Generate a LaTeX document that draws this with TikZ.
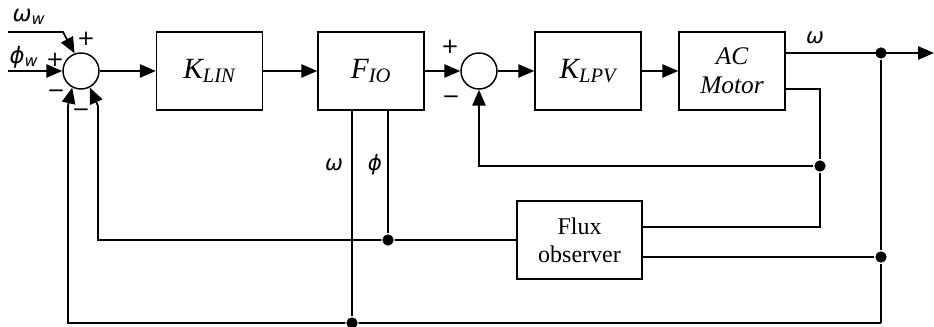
\documentclass[tikz,border=0pt]{standalone}
\usepackage{fontspec}
\setmainfont{Liberation Serif}
\newfontfamily\grk{DejaVu Sans}
\usetikzlibrary{arrows.meta, positioning, calc}

\begin{document}
\begin{tikzpicture}[x=0.75pt, y=-0.75pt, line width=1.3pt,
  every node/.style={font=\fontsize{16}{19}\selectfont\grk},
  block/.style={draw, line width=1.1pt, minimum width=79.5pt, minimum height=58.5pt, inner sep=0pt, font=\fontsize{22}{26}\selectfont\rmfamily\itshape},
  sumnode/.style={draw, line width=1.1pt, circle, minimum size=27pt, inner sep=0pt},
  dot/.style={circle, fill, inner sep=0pt, minimum size=8.5pt},
  sig/.style={-{Triangle[length=12pt,width=10pt]}}]
  \useasboundingbox (0,0) rectangle (934,327);

  \node[sumnode] (s1) at (81,71) {};
  \node[block] (klin) at (209.5,71) {K\textsubscript{LIN}};
  \node[block] (fio) at (371,71) {F\textsubscript{IO}};
  \node[sumnode] (s2) at (479,71) {};
  \node[block] (klpv) at (588,71) {K\textsubscript{LPV}};
  \node[block, align=center, font=\fontsize{19}{22}\selectfont\rmfamily\itshape] (motor) at (732,71) {AC\\Motor};
  \node[block, minimum width=93.75pt, align=center, font=\fontsize{18}{21}\selectfont\rmfamily] (flux) at (579.5,240) {Flux\\observer};

  \draw[sig] (s1) -- (klin);
  \draw[sig] (klin) -- (fio);
  \draw[sig] (fio) -- (s2);
  \draw[sig] (s2) -- (klpv);
  \draw[sig] (klpv) -- (motor);

  % references
  \coordinate (win) at (8,32);
  \coordinate (wbend) at (63,32);
  \coordinate (pin) at (8,71);
  \draw[sig] (win) -- (wbend) -- (s1.110);
  \draw[sig] (pin) -- (s1.west);
  \node[font=\fontsize{17}{20}\selectfont\grk] (wlab) at (29,17) {\itshape ω\textsubscript{w}};
  \node[font=\fontsize{17}{20}\selectfont\grk] (plab) at (24,57) {\itshape ϕ\textsubscript{w}};
  \node (p1) at (86,39) {+};
  \node (p2) at (55,60) {+};
  \node (m1) at (56,94) {−};
  \node (m2) at (81,113) {−};
  \node (p3) at (450,47) {+};
  \node (m3) at (451,100) {−};

  % motor outputs
  \coordinate (mout) at ($(motor.east)+(0,-18)$);
  \coordinate (mout2) at ($(motor.east)+(0,18)$);
  \coordinate (yend) at (934,53);
  \node[dot] (d1) at (881,53) {};
  \draw[sig] (mout) -- (yend);
  \node (wout) at (815,38) {\itshape ω};
  \node[dot] (d2) at (820,166) {};
  \draw (mout2) -| (d2) |- ($(flux.east)+(0,-13)$);
  \draw[sig] (d2) -| (s2.south);

  % outer loop
  \node[dot] (d3) at (881,257) {};
  \coordinate (c4) at (881,323);
  \draw (d1) -- (d3) -- (c4);
  \draw (d3) -- ($(flux.east)+(0,17)$);
  \node[dot] (d4) at (352,323) {};
  \coordinate (fb1) at (68,323);
  \coordinate (fb1up) at (68,106);
  \draw[sig] (c4) -- (d4) -- (fb1) -- (fb1up) -- (s1.-118);
  \draw (fio.south -| d4) -- (d4);
  \node (wfb) at (334,165) {\itshape ω};

  % flux loop
  \node[dot] (d5) at (388,240) {};
  \coordinate (fb2) at (98,240);
  \coordinate (fb2up) at (98,106);
  \draw[sig] (flux.west) -- (d5) -- (fb2) -- (fb2up) -- (s1.-62);
  \draw (fio.south -| d5) -- (d5);
  \node (pfb) at (375,165) {\itshape ϕ};
\end{tikzpicture}
\end{document}
